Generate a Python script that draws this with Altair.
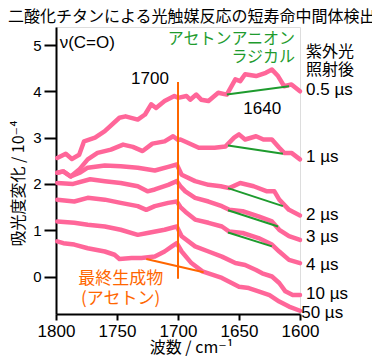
import altair as alt
import pandas as pd

# ---------------- data ----------------
series_names = ["0.5 µs", "1 µs", "2 µs", "3 µs", "4 µs", "10 µs", "50 µs"]

wn05 = [1799,1792,1787,1781,1777,1768,1760,1748,1743,1733,1727,1722,1718,1711,1703,1700,1693,1690,1685,1681,1675,1667,1660,1653,1649,1645,1636,1628,1623,1618,1613,1607,1600]
v05 = [2.56,2.65,2.54,2.63,2.92,3.00,3.14,3.43,3.46,3.39,3.50,3.72,3.64,3.79,3.90,3.86,3.90,3.82,3.93,3.82,3.79,3.97,3.93,4.26,4.22,4.37,4.33,4.40,4.47,4.33,4.11,4.15,4.00]

wn1 = [1799,1794,1788,1781,1774,1766,1755,1745,1737,1729,1721,1711,1704,1700,1698,1692,1683,1678,1670,1661,1654,1650,1645,1636,1630,1623,1617,1613,1607,1600]
v1 = [2.24,2.27,2.16,2.31,2.53,2.67,2.74,2.85,2.80,2.71,2.87,2.92,3.03,2.95,2.96,2.89,2.78,2.78,2.78,2.81,3.00,3.07,2.96,3.03,2.96,2.96,2.78,2.67,2.67,2.53]

wn2 = [1799,1794,1788,1780,1774,1760,1747,1733,1719,1708,1701,1697,1686,1675,1665,1658,1649,1638,1627,1621,1617,1609,1600]
v2 = [2.24,2.27,2.16,2.25,2.35,2.40,2.38,2.35,2.29,2.37,2.42,2.20,2.06,1.98,1.95,1.91,2.02,1.95,1.84,1.84,1.66,1.44,1.32]

wn3 = [1799,1786,1772,1760,1747,1733,1725,1719,1708,1701,1698,1694,1686,1675,1664,1658,1647,1634,1623,1617,1609,1600]
v3 = [2.02,2.00,2.10,2.06,2.02,1.95,1.84,1.88,1.98,2.06,1.95,1.84,1.70,1.62,1.52,1.44,1.41,1.30,1.19,1.01,0.87,0.79]

wn4 = [1799,1785,1774,1760,1747,1733,1726,1719,1708,1701,1698,1694,1686,1675,1664,1658,1647,1634,1623,1617,1609,1600]
v4 = [1.66,1.62,1.70,1.66,1.59,1.52,1.44,1.52,1.59,1.62,1.50,1.40,1.23,1.16,1.08,0.97,0.94,0.83,0.69,0.54,0.36,0.29]

wn10 = [1799,1785,1774,1760,1747,1733,1725,1711,1701,1697,1686,1675,1664,1653,1645,1636,1631,1623,1617,1612,1606,1600]
v10 = [1.19,1.16,1.12,1.08,1.01,0.90,0.94,1.01,1.08,0.87,0.65,0.54,0.43,0.29,0.25,0.14,0.07,0.00,-0.14,-0.32,-0.40,-0.40]

wn50 = [1799,1794,1785,1774,1760,1752,1748,1738,1730,1719,1711,1705,1701,1697,1689,1680,1672,1664,1656,1650,1642,1634,1625,1617,1609,1600]
v50 = [0.76,0.72,0.69,0.61,0.54,0.47,0.38,0.40,0.40,0.43,0.54,0.65,0.72,0.54,0.29,0.11,0.04,-0.03,-0.14,-0.22,-0.25,-0.32,-0.40,-0.54,-0.65,-0.74]

# green baselines (anion radical, 1640) : start / end
green_wn_a = [1660, 1659, 1659, 1659, 1659]
green_v_a = [3.93, 2.83, 1.91, 1.43, 0.95]
green_wn_b = [1609, 1614, 1614, 1618, 1623]
green_v_b = [4.11, 2.65, 1.52, 1.08, 0.65]

# orange marker (1700 line) and final-product baseline
orange_v_wn = [1700]
orange_v_lo = [-0.05]
orange_v_hi = [4.2]
orange_s_wn_a = [1726]
orange_s_v_a = [0.38]
orange_s_wn_b = [1679]
orange_s_v_b = [0.09]

# right-side labels
time_labels = series_names
time_label_wn = [1595, 1595, 1595, 1595, 1595, 1595, 1599]
time_label_v = [4.02, 2.58, 1.32, 0.85, 0.24, -0.37, -0.79]
head_labels = ["紫外光", "照射後"]
head_label_v = [4.84, 4.47]

x_ticks = [1800, 1750, 1700, 1650, 1600]
y_ticks = [0, 1, 2, 3, 4, 5]

# ---------------- styling ----------------
PINK = "#ff6699"
GREEN = "#1e9b2e"
ORANGE = "#ff6600"
CJK = "'Noto Sans CJK JP', 'DejaVu Sans'"
SANS = "'Liberation Sans', Arial, sans-serif"

rows = []
for name, wns, vs in zip(series_names, [wn05, wn1, wn2, wn3, wn4, wn10, wn50],
                         [v05, v1, v2, v3, v4, v10, v50]):
    for w, v in zip(wns, vs):
        rows.append({"series": name, "wn": w, "v": v})
df = pd.DataFrame(rows)

x_scale = alt.Scale(domain=[1800, 1600], nice=False, zero=False)
y_scale = alt.Scale(domain=[-0.81, 5.39], nice=False, zero=False)

x_axis = alt.Axis(values=x_ticks, format="d", grid=False, labelFlush=False, labelOverlap=False,
                  labelFont=SANS, labelFontSize=17, labelColor="black", labelPadding=3,
                  tickSize=6, tickWidth=2, tickColor="black", domainColor="black", domainWidth=2,
                  title="波数 / cm⁻¹", titleFont=CJK, titleFontSize=16, titleFontWeight="normal",
                  titleColor="black", titleX=135, titleY=33, titleBaseline="middle", titleAlign="center")
y_axis = alt.Axis(values=y_ticks, format="d", grid=False, labelFont=SANS, labelFontSize=15,
                  labelColor="black", labelPadding=3, tickSize=12, tickWidth=2, tickColor="black",
                  domainColor="black", domainWidth=2,
                  title="吸光度変化 / 10⁻⁴", titleFont=CJK, titleFontSize=16, titleFontWeight="normal",
                  titleColor="black", titleX=-38, titleY=156, titleBaseline="middle", titleAlign="center",
                  titleAngle=270)

X = alt.X("wn:Q", scale=x_scale, axis=x_axis)
Y = alt.Y("v:Q", scale=y_scale, axis=y_axis)

lines = alt.Chart(df).mark_line(color=PINK, strokeWidth=4.5, strokeJoin="round", strokeCap="round").encode(
    x=X, y=Y, detail="series:N")

gdf = pd.DataFrame({"wn": green_wn_a, "v": green_v_a, "wn2": green_wn_b, "v2": green_v_b})
greens = alt.Chart(gdf).mark_rule(color=GREEN, strokeWidth=2).encode(x=X, y=Y, x2="wn2:Q", y2="v2:Q")

odf = pd.DataFrame({"wn": orange_v_wn, "v": orange_v_lo, "v2": orange_v_hi})
orange_v = alt.Chart(odf).mark_rule(color=ORANGE, strokeWidth=2).encode(x=X, y=Y, y2="v2:Q")

osdf = pd.DataFrame({"wn": orange_s_wn_a, "v": orange_s_v_a, "wn2": orange_s_wn_b, "v2": orange_s_v_b})
orange_s = alt.Chart(osdf).mark_rule(color=ORANGE, strokeWidth=2).encode(x=X, y=Y, x2="wn2:Q", y2="v2:Q")

tl = pd.DataFrame({"wn": time_label_wn, "v": time_label_v, "t": time_labels})
time_text = alt.Chart(tl).mark_text(align="left", baseline="middle", font=SANS, fontSize=17,
                                    color="black").encode(x=X, y=Y, text="t:N")

hl = pd.DataFrame({"wn": [1595, 1595], "v": head_label_v, "t": head_labels})
head_text = alt.Chart(hl).mark_text(align="left", baseline="middle", font=CJK, fontSize=16,
                                    color="black").encode(x=X, y=Y, text="t:N")

bl = pd.DataFrame({"wn": [1797], "v": [5.05], "t": ["ν(C=O)"]})
nu_text = alt.Chart(bl).mark_text(align="left", baseline="middle", font=SANS, fontSize=17,
                                  color="black").encode(x=X, y=Y, text="t:N")

pk = pd.DataFrame({"wn": [1723, 1631], "v": [4.26, 3.61], "t": ["1700", "1640"]})
peak_text = alt.Chart(pk).mark_text(align="center", baseline="middle", font=SANS, fontSize=17,
                                    color="black").encode(x=X, y=Y, text="t:N")

gt = pd.DataFrame({"wn": [1604, 1604], "v": [5.14, 4.74], "t": ["アセトンアニオン", "ラジカル"]})
green_text = alt.Chart(gt).mark_text(align="right", baseline="middle", font=CJK, fontSize=16,
                                     color=GREEN).encode(x=X, y=Y, text="t:N")

ot = pd.DataFrame({"wn": [1747, 1747], "v": [-0.06, -0.48], "t": ["最終生成物", "(アセトン)"]})
orange_text = alt.Chart(ot).mark_text(align="center", baseline="middle", font=CJK, fontSize=17,
                                      color=ORANGE).encode(x=X, y=Y, text="t:N")

chart = alt.layer(lines, greens, orange_v, orange_s, time_text, head_text, nu_text, peak_text,
                  green_text, orange_text).properties(
    width=244, height=287,
    autosize=alt.AutoSizeParams(type="none"),
    padding={"left": 48, "top": 19, "right": 72, "bottom": 42},
    title=alt.TitleParams("二酸化チタンによる光触媒反応の短寿命中間体検出", font=CJK, fontSize=16,
                          fontWeight="normal", color="black", anchor="start", dx=-48, offset=2,
                          frame="group", limit=1000),
).configure_view(stroke="black", strokeWidth=2).configure(background="white")

chart.save("out.html", embed_options={"renderer": "svg", "actions": False})
